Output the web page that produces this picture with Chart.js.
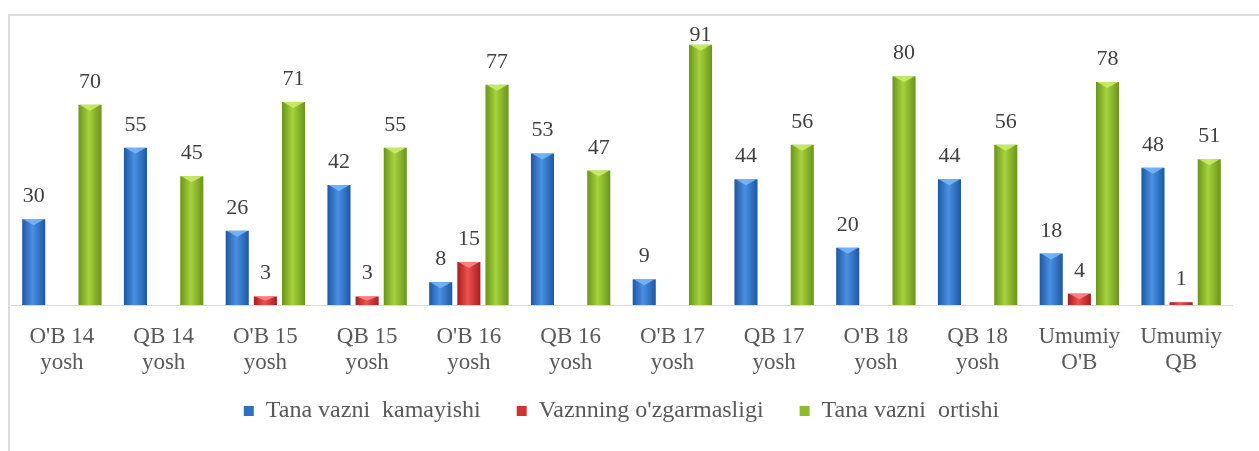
<!DOCTYPE html>
<html>
<head>
<meta charset="utf-8">
<script src="https://cdn.jsdelivr.net/npm/chart.js@4/dist/chart.umd.min.js"></script>
<style>
  html, body { margin: 0; padding: 0; background: #fff; }
  body { width: 1259px; height: 451px; position: relative; overflow: hidden; }
  #frame {
    position: absolute; left: 8px; top: 14px; width: 1251px; height: 437px;
    border-left: 2px solid #dcdcdc; border-top: 2px solid #dcdcdc;
    box-sizing: border-box;
  }
  #chart { display: block; }
</style>
</head>
<body>
<div id="frame"><canvas id="chart" width="1249" height="441"></canvas></div>
<script>
  "use strict";

  // Chart data
  // --------------------------------------------------
  var categories = [
    ["O'B 14", "yosh"], ["QB 14", "yosh"], ["O'B 15", "yosh"], ["QB 15", "yosh"],
    ["O'B 16", "yosh"], ["QB 16", "yosh"], ["O'B 17", "yosh"], ["QB 17", "yosh"],
    ["O'B 18", "yosh"], ["QB 18", "yosh"], ["Umumiy", "O'B"], ["Umumiy", "QB"]
  ];
  var seriesNames = ["Tana vazni  kamayishi", "Vaznning o'zgarmasligi", "Tana vazni  ortishi"];
  var kamayishi   = [30, 55, 26, 42, 8, 53, 9, 44, 20, 44, 18, 48];
  var ozgarmaslik = [0, 0, 3, 3, 15, 0, 0, 0, 0, 0, 4, 1];
  var ortishi     = [70, 45, 71, 55, 77, 47, 91, 56, 80, 56, 78, 51];

  var serifFont = "'Liberation Serif', 'Times New Roman', serif";

  // bar shading: edge, middle, top cap
  var shades = [
    { edge: "#1d58a3", mid: "#4a90e2", cap: "#7ab8ff", flat: "#2f6fc0" },
    { edge: "#a81e1e", mid: "#ee5050", cap: "#ff8a8a", flat: "#d43232" },
    { edge: "#6a951a", mid: "#a6d23e", cap: "#cdef6a", flat: "#8cbc2a" }
  ];

  // Bar shading - Start
  // --------------------------------------------------
  var shadePlugin = {
    id: "shade",
    beforeDatasetDraw: function(chart, args) {
      var ctx = chart.ctx;
      var s = shades[args.index];
      args.meta.data.forEach(function(el) {
        var l = el.x - el.width / 2, r = el.x + el.width / 2;
        var g = ctx.createLinearGradient(l, 0, r, 0);
        g.addColorStop(0, s.edge);
        g.addColorStop(0.45, s.mid);
        g.addColorStop(1, s.edge);
        el.options = Object.assign({}, el.options, { backgroundColor: g });
      });
    },
    afterDatasetDraw: function(chart, args) {
      var ctx = chart.ctx;
      var s = shades[args.index];
      args.meta.data.forEach(function(el) {
        var h = el.base - el.y;
        if (h < 5) return;
        var l = el.x - el.width / 2, r = el.x + el.width / 2;
        var d = Math.min(6, h / 2);
        ctx.save();
        ctx.fillStyle = s.cap;
        ctx.globalAlpha = 0.85;
        ctx.beginPath();
        ctx.moveTo(l + 1, el.y);
        ctx.lineTo(r - 1, el.y);
        ctx.lineTo(el.x, el.y + d);
        ctx.closePath();
        ctx.fill();
        ctx.restore();
      });
    }
  };
  // Bar shading - End

  // Value labels - Start
  // --------------------------------------------------
  var valueLabels = {
    id: "valueLabels",
    afterDatasetsDraw: function(chart) {
      var ctx = chart.ctx;
      ctx.save();
      ctx.font = "22px " + serifFont;
      ctx.fillStyle = "#404040";
      ctx.textAlign = "center";
      ctx.textBaseline = "alphabetic";
      chart.data.datasets.forEach(function(ds, i) {
        chart.getDatasetMeta(i).data.forEach(function(el, j) {
          var v = ds.data[j];
          if (!v) return;
          // keep labels of the tallest bars inside the frame
          var y = Math.max(el.y - 17, 25);
          ctx.fillText(String(v), el.x, y);
        });
      });
      ctx.restore();
    }
  };
  // Value labels - End

  var ctx = document.getElementById("chart").getContext("2d");
  var chart = new Chart(ctx, {
    type: "bar",
    data: {
      labels: categories,
      datasets: [
        { label: seriesNames[0], data: kamayishi, backgroundColor: shades[0].flat },
        { label: seriesNames[1], data: ozgarmaslik, backgroundColor: shades[1].flat },
        { label: seriesNames[2], data: ortishi, backgroundColor: shades[2].flat }
      ]
    },
    options: {
      responsive: false,
      animation: false,
      events: [],
      layout: { padding: { left: 1, right: 27, top: 3, bottom: 24 } },
      datasets: {
        bar: { categoryPercentage: 0.83, barPercentage: 0.82, borderWidth: 0 }
      },
      scales: {
        x: {
          grid: { display: false },
          border: { display: true, color: "#d9d9d9", width: 1 },
          ticks: {
            color: "#595959",
            font: { family: serifFont, size: 23, lineHeight: 1.13 },
            padding: 11,
            maxRotation: 0,
            autoSkip: false
          }
        },
        y: { display: false, min: 0, max: 100 }
      },
      plugins: {
        legend: {
          position: "bottom",
          labels: {
            color: "#595959",
            font: { family: serifFont, size: 24 },
            boxWidth: 10,
            boxHeight: 10,
            padding: 12,
            // wider gap between entries than the vertical padding
            generateLabels: function(chart) {
              var items = Chart.defaults.plugins.legend.labels.generateLabels(chart);
              items.forEach(function(item, i) {
                if (i < items.length - 1) item.text += "    ";
              });
              return items;
            }
          }
        },
        tooltip: { enabled: false }
      }
    },
    plugins: [shadePlugin, valueLabels]
  });
</script>
</body>
</html>
